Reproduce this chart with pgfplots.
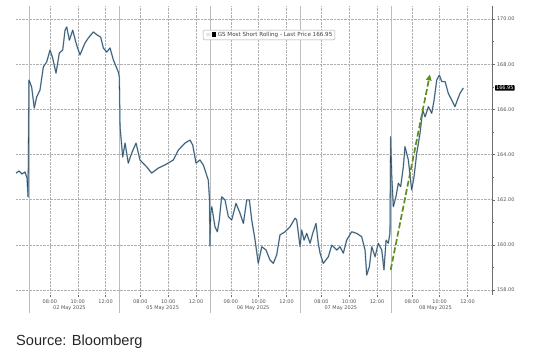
\documentclass[border=0pt]{standalone}
\usepackage{pgfplots}
\pgfplotsset{compat=1.18}
\usepackage{pgfplotstable}
\usepackage{fontspec}
\setmainfont{DejaVu Sans}
\newfontfamily\srcfont{Liberation Sans}
\usetikzlibrary{arrows.meta}
\definecolor{pricelight}{HTML}{86AECB}
\definecolor{pricedark}{HTML}{34454F}
\definecolor{arrowgreen}{HTML}{5E8E1E}
\definecolor{gridgray}{HTML}{B0B0B0}
\definecolor{labgray}{HTML}{555555}
\definecolor{sepgray}{HTML}{BDBDBD}

\pgfplotstableread{
h v
-0.93 163.18
-0.72 163.27
-0.50 163.14
-0.29 163.23
-0.14 162.96
-0.07 162.12
0.00 167.30
0.19 166.99
0.38 166.06
0.55 166.55
0.79 166.86
1.03 167.88
1.27 168.10
1.51 168.63
1.70 168.27
1.94 167.61
2.18 168.50
2.42 168.63
2.59 169.51
2.71 169.65
2.90 169.07
3.14 169.51
3.38 168.94
3.66 168.41
4.02 168.94
4.26 169.16
4.62 169.43
4.91 169.29
5.15 169.20
5.34 168.72
5.58 168.54
5.82 168.72
6.06 168.19
6.30 167.83
6.42 167.65
6.49 167.43
6.54 165.22
6.73 163.89
6.90 164.51
7.13 163.62
7.38 164.07
7.69 164.51
7.97 163.76
8.46 163.45
8.81 163.18
9.29 163.40
9.77 163.54
10.37 163.76
10.73 164.20
11.21 164.51
11.57 164.64
11.76 164.42
12.00 163.62
12.28 163.76
12.52 163.54
12.88 162.87
12.97 161.99
13.00 159.95
13.05 161.41
13.13 161.69
13.36 160.80
13.53 160.58
13.67 161.10
13.84 162.13
14.08 161.99
14.32 161.25
14.56 161.10
14.87 161.84
15.16 161.40
15.40 160.95
15.64 161.99
15.83 161.99
16.00 161.10
16.24 160.21
16.47 159.18
16.72 159.92
17.03 159.77
17.31 159.33
17.55 159.18
17.79 159.55
18.03 160.44
18.39 160.58
18.75 160.80
19.11 161.18
19.23 161.10
19.47 159.92
19.59 160.66
19.76 160.21
19.95 160.51
20.19 160.07
20.38 160.51
20.62 160.95
20.78 160.07
20.91 159.63
21.14 159.18
21.50 159.47
21.75 159.99
22.11 159.77
22.34 159.92
22.58 159.63
22.82 160.21
23.18 160.58
23.54 160.51
23.90 160.36
24.14 159.77
24.26 158.66
24.45 159.03
24.62 159.92
24.86 159.47
25.09 160.07
25.34 159.77
25.50 158.89
25.65 160.21
25.81 160.07
25.93 160.51
25.98 164.79
26.06 163.02
26.17 161.69
26.36 162.13
26.53 162.73
26.70 162.58
26.89 163.46
27.01 164.35
27.25 163.76
27.49 162.43
27.66 163.02
27.85 164.05
28.09 164.94
28.28 165.97
28.45 165.67
28.69 166.12
28.93 165.83
29.10 166.41
29.29 167.30
29.48 167.52
29.65 167.23
29.89 167.23
30.12 166.71
30.37 166.41
30.60 166.12
30.77 166.41
30.96 166.71
31.20 166.95
}\pricedata

\begin{document}
\begin{tikzpicture}
\useasboundingbox (0,0) rectangle (549pt,352pt);
\begin{axis}[
  at={(16pt,57pt)}, anchor=south west,
  scale only axis, width=476pt, height=289pt,
  xmin=-0.934, xmax=33.26, ymin=157.78, ymax=170.58,
  clip=false,
  axis x line*=bottom, axis y line*=right,
  x axis line style={draw=none},
  y axis line style={draw=gray!85!black, line width=0.5pt, -},
  ytick={158,160,...,170},
  minor ytick={159,161,...,169},
  xtick={1.5,3.5,5.5,8,10,12,14.5,16.5,18.5,21,23,25,27.5,29.5,31.5},
  xticklabels={08:00,10:00,12:00,08:00,10:00,12:00,08:00,10:00,12:00,08:00,10:00,12:00,08:00,10:00,12:00},
  tick align=outside,
  major tick length=2.5pt, minor tick length=2pt,
  every tick/.style={gray!85!black, line width=0.4pt},
  grid=major,
  major grid style={densely dotted, gridgray, line width=0.45pt},
  /pgf/number format/assume math mode=true,
  yticklabel style={font=\fontsize{5}{6}\selectfont, text=labgray, xshift=-1pt,
    /pgf/number format/fixed, /pgf/number format/fixed zerofill, /pgf/number format/precision=2},
  xticklabel style={font=\fontsize{5}{6}\selectfont, text=labgray, yshift=1.5pt},
]
\pgfplotsinvokeforeach{0,6.5,13,19.5,26}{
  \draw[sepgray, line width=0.5pt] (axis cs:#1,170.58) -- ([yshift=-18pt]axis cs:#1,157.78);
}
\addplot[pricelight, line width=1.5pt, line join=round] table[x=h,y=v] {\pricedata};
\addplot[pricedark, line width=0.55pt, line join=round] table[x=h,y=v] {\pricedata};
\addplot[arrowgreen, line width=1.7pt, dash pattern=on 6pt off 2.5pt,
  -{Triangle[length=6pt,width=5.5pt]}] coordinates {(25.98,158.89) (28.80,167.55)};
\node[font=\fontsize{5}{6}\selectfont, text=labgray] at (axis cs:2.9,157.78) [yshift=-13pt] {02 May 2025};
\node[font=\fontsize{5}{6}\selectfont, text=labgray] at (axis cs:9.6,157.78) [yshift=-13pt] {05 May 2025};
\node[font=\fontsize{5}{6}\selectfont, text=labgray] at (axis cs:16.1,157.78) [yshift=-13pt] {06 May 2025};
\node[font=\fontsize{5}{6}\selectfont, text=labgray] at (axis cs:22.4,157.78) [yshift=-13pt] {07 May 2025};
\node[font=\fontsize{5}{6}\selectfont, text=labgray] at (axis cs:29.2,157.78) [yshift=-13pt] {08 May 2025};
\node[anchor=west, fill=black, text=white, font=\fontsize{5}{6}\selectfont, inner sep=0.9pt, rounded corners=0.6pt] at (axis cs:33.26,166.95) [xshift=3pt] {166.95};
\end{axis}
\node[draw=gray!70, fill=white, rounded corners=1.2pt, inner xsep=2.5pt, inner ysep=2.2pt,
  font=\fontsize{5.6}{6.5}\selectfont, text=black!75] at (269pt,317pt)
  {\textcolor{gray!70}{$\equiv$}\hspace{0.5pt}\textcolor{black}{\rule{4.3pt}{4.3pt}}\hspace{1.5pt}GS Most Short Rolling - Last Price 166.95};
\node[anchor=base west, inner sep=0pt, font=\srcfont\fontsize{14.6}{18}\selectfont, text=black!85] at (16pt,6pt) {Source: Bloomberg};
\end{tikzpicture}
\end{document}
